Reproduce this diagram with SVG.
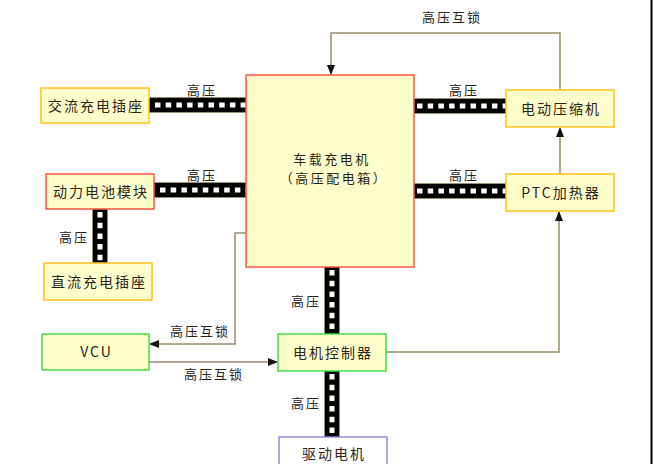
<svg xmlns="http://www.w3.org/2000/svg" width="653" height="464" viewBox="0 0 653 464">
<defs>
<marker id="ah" markerWidth="10" markerHeight="10" refX="9" refY="5" orient="auto" markerUnits="userSpaceOnUse">
<path d="M0,1 L10,5 L0,9 Z" fill="#111"/>
</marker>
<style>
.node{fill:#FFFFCC;stroke-width:1.5}
.yel{stroke:#FFC21A}
.red{stroke:#FF5544}
.grn{stroke:#44DD44}
.pur{stroke:#9988DD;fill:#FFFFFF}
.t{font-family:"Noto Sans CJK SC","Liberation Sans",sans-serif;font-size:14px;fill:#2a2418;letter-spacing:2px;text-anchor:middle}
.tm{font-family:"Noto Sans CJK SC","Liberation Sans",sans-serif;font-size:13px;fill:#2a2418;letter-spacing:2.5px;text-anchor:middle}
.lb{font-family:"Noto Sans CJK SC","Liberation Sans",sans-serif;font-size:13px;fill:#2a2418;letter-spacing:2px;text-anchor:middle}
.bar{stroke:#000;stroke-width:14;fill:none}
.barb{stroke:#7a6a4a;stroke-width:15.5;fill:none}
.dash{stroke:#fff;stroke-width:5;stroke-dasharray:5.5 5.2;fill:none}
.ln{stroke:#9a8a6a;stroke-width:1.5;fill:none}
</style>
</defs>
<rect x="0" y="0" width="653" height="464" fill="#fff"/>
<line x1="651.5" y1="0" x2="651.5" y2="464" stroke="#000" stroke-width="2"/>
<g id="connectors">
<g id="hv-bars">
<path class="barb" d="M149,105 H246 M154,190 H246 M414,106 H507 M414,191 H507 M100,209 V263 M332,267 V334 M332,371 V437"/>
<path class="bar" d="M149,105 H246 M154,190 H246 M414,106 H507 M414,191 H507 M100,209 V263 M332,267 V334 M332,371 V437"/>
<path class="dash" d="M155,105 H246"/>
<path class="dash" d="M160,190 H246"/>
<path class="dash" d="M417,106 H507"/>
<path class="dash" d="M417,191 H507"/>
<path class="dash" d="M100,212 V263"/>
<path class="dash" d="M332,270 V334"/>
<path class="dash" d="M332,374 V437"/>
</g>
<path class="ln" d="M560,90 V33 H331 V74" marker-end="url(#ah)"/>
<path class="ln" d="M560,174 V128" marker-end="url(#ah)"/>
<path class="ln" d="M386,352 H559 V212" marker-end="url(#ah)"/>
<path class="ln" d="M246,233 H235 V344 H150" marker-end="url(#ah)"/>
<path class="ln" d="M149,362 H277" marker-end="url(#ah)"/>
<text class="lb" x="202" y="95">高压</text>
<text class="lb" x="202" y="180">高压</text>
<text class="lb" x="464" y="95">高压</text>
<text class="lb" x="464" y="180">高压</text>
<text class="lb" x="74" y="242">高压</text>
<text class="lb" x="306" y="306">高压</text>
<text class="lb" x="306" y="408">高压</text>
<text class="lb" x="452" y="22">高压互锁</text>
<text class="lb" x="200" y="336">高压互锁</text>
<text class="lb" x="214" y="379">高压互锁</text>
</g>
<g id="ac-charger"><rect class="node yel" x="41" y="88" width="108" height="35"/><text class="t" x="96" y="110.5">交流充电插座</text></g>
<g id="battery"><rect class="node red" x="46" y="174" width="108" height="35"/><text class="t" x="101" y="196.5">动力电池模块</text></g>
<g id="dc-charger"><rect class="node yel" x="44" y="263" width="108" height="37"/><text class="t" x="99" y="286.5">直流充电插座</text></g>
<g id="vcu"><rect class="node grn" x="42" y="334" width="107" height="36"/><text class="t" x="96.5" y="357">VCU</text></g>
<g id="obc"><rect class="node red" x="246" y="75" width="168" height="192"/><text class="tm" x="332" y="164">车载充电机</text><text class="tm" x="334" y="183">（高压配电箱）</text></g>
<g id="compressor"><rect class="node yel" x="506" y="90" width="108" height="37"/><text class="t" x="561" y="113.5">电动压缩机</text></g>
<g id="ptc"><rect class="node yel" x="506" y="174" width="108" height="37"/><text class="t" x="561" y="197.5">PTC加热器</text></g>
<g id="mcu"><rect class="node grn" x="278" y="334" width="108" height="37"/><text class="t" x="333" y="357.5">电机控制器</text></g>
<g id="motor"><rect class="node pur" x="279" y="437" width="108" height="40"/><text class="t" x="334" y="459">驱动电机</text></g>
</svg>
